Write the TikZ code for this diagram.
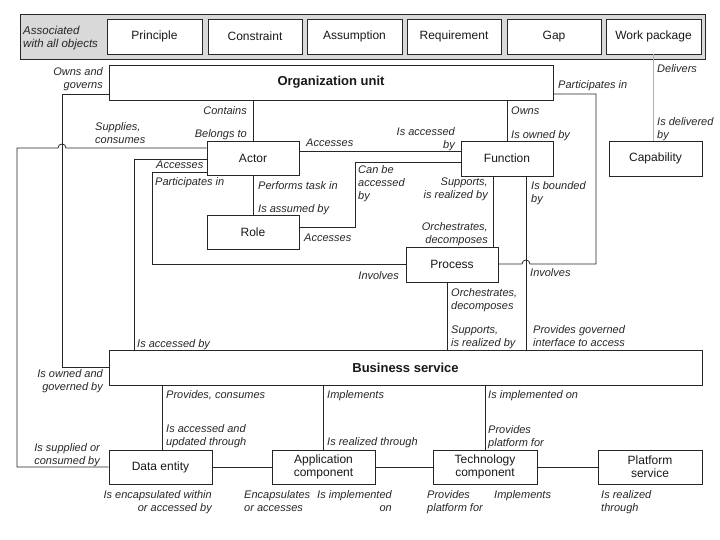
\documentclass[tikz,border=0pt]{standalone}
\usepackage{fontspec}
\setmainfont{Liberation Sans}
\begin{document}
\begin{tikzpicture}[x=1pt,y=-1pt,
  box/.style={draw=black!85, line width=0.8pt, fill=white, inner sep=0pt, align=center, font=\fontsize{12}{13}\selectfont, text=black!90},
  bigbox/.style={box, font=\bfseries\fontsize{13}{14}\selectfont},
  conn/.style={draw=black!85, line width=0.8pt},
  lb/.style={inner sep=0pt, font=\itshape\fontsize{11}{13}\selectfont, text=black!85, align=left, anchor=base west},
  lbr/.style={lb, align=right, anchor=base east}]
\useasboundingbox (0,0) rectangle (720,540);
% banner
\node[draw=black!85, line width=0.8pt, fill=black!15, minimum width=685pt, minimum height=45pt, inner sep=0pt] (banner) at (362.5,36.5) {};
\node[lb, font=\itshape\fontsize{11.5}{13}\selectfont] (assoc) at (23,48) {Associated\\with all objects};
\node[box, minimum width=95pt, minimum height=35pt] (principle) at (154.5,36.5) {Principle};
\node[box, minimum width=94pt, minimum height=35pt] (constraint) at (255,36.5) {Constraint};
\node[box, minimum width=95pt, minimum height=35pt] (assumption) at (354.5,36.5) {Assumption};
\node[box, minimum width=94pt, minimum height=35pt] (requirement) at (454,36.5) {Requirement};
\node[box, minimum width=94pt, minimum height=35pt] (gap) at (554,36.5) {Gap};
\node[box, minimum width=95pt, minimum height=35pt] (workpkg) at (653.5,36.5) {Work package};
% main boxes
\node[bigbox, minimum width=444pt, minimum height=35pt] (org) at (331,82.5) {Organization unit};
\node[box, minimum width=92pt, minimum height=34pt] (actor) at (253,158) {Actor};
\node[box, minimum width=92pt, minimum height=34pt] (role) at (253,232) {Role};
\node[box, minimum width=92pt, minimum height=35pt] (function) at (507,158.5) {Function};
\node[box, minimum width=93pt, minimum height=35pt] (capability) at (655.5,158.5) {Capability};
\node[box, minimum width=92pt, minimum height=35pt] (process) at (452,264.5) {Process};
\node[bigbox, minimum width=593pt, minimum height=35pt] (bs) at (405.5,367.5) {Business service};
\node[box, minimum width=103pt, minimum height=34pt] (data) at (160.5,467) {Data entity};
\node[box, minimum width=103pt, minimum height=34pt] (app) at (323.5,467) {Application\\component};
\node[box, minimum width=104pt, minimum height=34pt] (tech) at (485,467) {Technology\\component};
\node[box, minimum width=104pt, minimum height=34pt] (platform) at (650,467) {Platform\\service};
% connectors
\draw[conn] (org.south -| actor.north) -- (actor.north);
\draw[conn] (org.south -| function.north) -- (function.north);
\draw[draw=black!30, line width=0.8pt] (workpkg.south) -- (workpkg.south |- capability.north);
\draw[conn] (actor.south) -- (role.north);
\draw[conn] (org.west |- 0,94) -- (62,94) -- (62,367) -- (bs.west |- 0,367);
\draw[conn] (actor.west |- 0,148) -- (66,148) .. controls (66,142.7) and (58,142.7) .. (58,148) -- (17,148) |- (data.west);
\draw[conn] (actor.east |- 0,151) -- (function.west |- 0,151);
\draw[conn] (role.east |- 0,227) -- (355,227) -- (355,162) -- (function.west |- 0,162);
\draw[conn] (actor.west |- 0,172) -- (152,172) -- (152,264) -- (process.west |- 0,264);
\draw[conn] (actor.west |- 0,159) -- (134,159) -- (bs.north -| 134,0);
\draw[conn] (function.south -| 493,0) -- (process.north -| 493,0);
\draw[conn] (function.south -| 526,0) -- (bs.north -| 526,0);
\draw[conn] (org.east |- 0,94) -- (596,94) -- (596,264) -- (530,264) .. controls (530,258.7) and (522,258.7) .. (522,264) -- (process.east |- 0,264);
\draw[conn] (process.south -| 447,0) -- (bs.north -| 447,0);
\draw[conn] (bs.south -| 162,0) -- (data.north -| 162,0);
\draw[conn] (bs.south -| app.north) -- (app.north);
\draw[conn] (bs.south -| tech.north) -- (tech.north);
\draw[conn] (data.east) -- (app.west);
\draw[conn] (app.east) -- (tech.west);
\draw[conn] (tech.east) -- (platform.west);
% labels
\node[lbr] (l1) at (103,89) {Owns and\\governs};
\node[lbr] (l2) at (247,114.5) {Contains};
\node[lbr] (l3) at (247,138) {Belongs to};
\node[lb] (l4) at (95,144) {Supplies,\\consumes};
\node[lb] (l5) at (306,147) {Accesses};
\node[lbr] (l6) at (455,149) {Is accessed\\by};
\node[lb] (l7) at (511,114.5) {Owns};
\node[lb] (l8) at (511,139) {Is owned by};
\node[lb] (l9) at (558,89) {Participates in};
\node[lb] (l10) at (657,73) {Delivers};
\node[lb] (l11) at (657,139) {Is delivered\\by};
\node[lb] (l12) at (156,169) {Accesses};
\node[lb] (l13) at (155,186) {Participates in};
\node[lb] (l14) at (258,190) {Performs task in};
\node[lb] (l15) at (258,213) {Is assumed by};
\node[lb] (l16) at (304,241.5) {Accesses};
\node[lb] (l17) at (358,200) {Can be\\accessed\\by};
\node[lbr] (l18) at (488,199) {Supports,\\is realized by};
\node[lbr] (l19) at (488,243.5) {Orchestrates,\\decomposes};
\node[lb] (l20) at (531,203) {Is bounded\\by};
\node[lbr] (l21) at (399,279) {Involves};
\node[lb] (l22) at (530,276) {Involves};
\node[lb] (l23) at (451,309) {Orchestrates,\\decomposes};
\node[lb] (l24) at (451,346) {Supports,\\is realized by};
\node[lb] (l25) at (533,346) {Provides governed\\interface to access};
\node[lb] (l26) at (137,347) {Is accessed by};
\node[lbr] (l27) at (103,390) {Is owned and\\governed by};
\node[lb] (l28) at (166,398) {Provides, consumes};
\node[lb] (l29) at (166,445) {Is accessed and\\updated through};
\node[lbr] (l30) at (100,464) {Is supplied or\\consumed by};
\node[lb] (l31) at (327,398) {Implements};
\node[lb] (l32) at (327,445.5) {Is realized through};
\node[lb] (l33) at (488,398) {Is implemented on};
\node[lb] (l34) at (488,446) {Provides\\platform for};
\node[lbr] (l35) at (212,511) {Is encapsulated within\\or accessed by};
\node[lb] (l36) at (244,511) {Encapsulates\\or accesses};
\node[lbr] (l37) at (392,511) {Is implemented\\on};
\node[lb] (l38) at (427,511) {Provides\\platform for};
\node[lb] (l39) at (494,498) {Implements};
\node[lb] (l40) at (601,511) {Is realized\\through};
\end{tikzpicture}
\end{document}
